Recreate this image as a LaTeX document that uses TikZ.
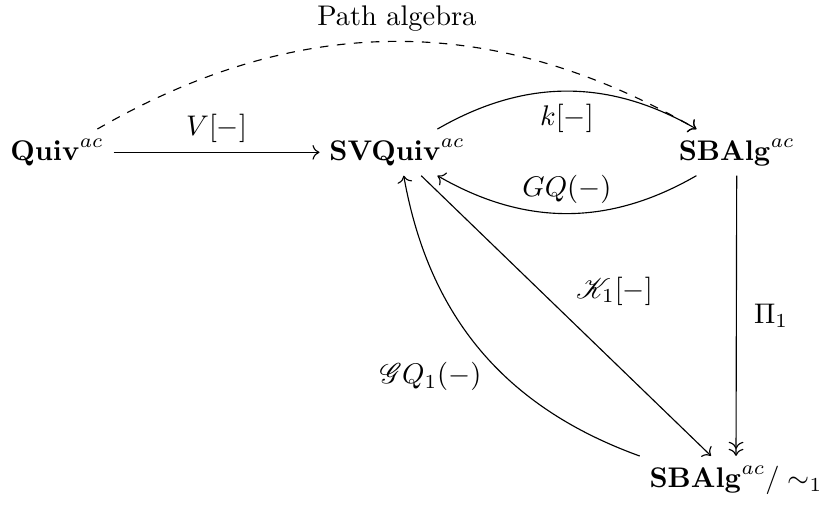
\documentclass[tikz,border=0pt]{standalone}
\usepackage{amsmath,mathrsfs}
\usetikzlibrary{positioning,arrows.meta,calc}

\begin{document}
\begin{tikzpicture}[
  obj/.style={inner sep=3.3pt},
  map/.style={->,line width=.4pt},
  epi/.style={->>,line width=.4pt}]
  \useasboundingbox (0,0) rectangle (10.2,6.326);
  \node[obj] (quiv) at (0.706,4.44){$\mathbf{Quiv}^{ac}$};
  \node[obj] (svq) at (4.915,4.44){$\mathbf{SVQuiv}^{ac}$};
  \node[obj] (sba) at (9.12,4.44){$\mathbf{SBAlg}^{ac}$};
  \node[obj] (quot) at (9.11,0.384){$\mathbf{SBAlg}^{ac}/\sim_1$};
  \draw[map] (quiv)--node[above]{$V[-]$}(svq);
  \draw[map,dashed] (quiv) to[bend left=30] node[above]{Path algebra} (sba);
  \draw[map] (svq) to[bend left=30] node[below=1pt]{$k[-]$} (sba);
  \draw[map] (sba) to[bend left=30] node[above]{$GQ(-)$} (svq);
  \draw[epi] (sba)--node[right=2.7pt]{$\Pi_1$}(quot);
  \draw[map] (svq)--node[above right]{$\mathscr{K}_1[-]$}(quot);
  \draw[map] (quot) to[bend left=30] node[pos=.4,left=5pt]{$\mathscr{G}Q_1(-)$} (svq);
\end{tikzpicture}
\end{document}
